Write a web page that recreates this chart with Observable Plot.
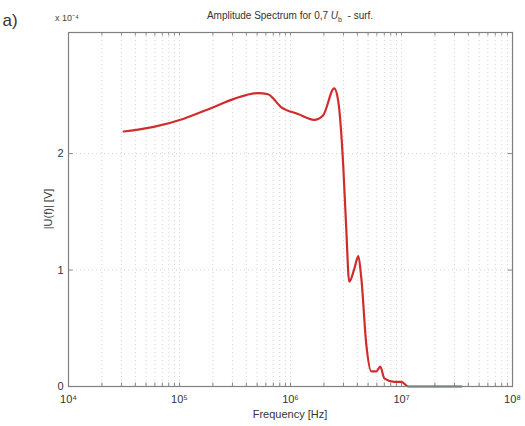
<!DOCTYPE html>
<html>
<head>
<meta charset="utf-8">
<script src="https://cdn.jsdelivr.net/npm/d3@7"></script>
<script src="https://cdn.jsdelivr.net/npm/@observablehq/plot@0.6"></script>
<style>
  html, body { margin: 0; padding: 0; background: #fff; }
  #chart { position: relative; width: 525px; height: 426px; }
  #chart svg { overflow: visible; }
</style>
</head>
<body>
<div id="chart"></div>
<script>
// Frequency in Hz
const freq = [31400, 58600, 109400, 191900, 309700, 509300, 626600, 822200,
  1172000, 1633000, 1972000, 2477000, 2692000, 2985000, 3177000, 3381000,
  3758000, 4083000, 4345000, 4819000, 5346000, 5929000, 6442000, 6998000,
  8630000, 9980000, 11530000, 34750000];
// Amplitude |U(f)| in units of 1e-4 V
const amp = [2.19, 2.23, 2.30, 2.39, 2.47, 2.52, 2.51, 2.40,
  2.34, 2.29, 2.33, 2.56, 2.45, 1.90, 1.36, 0.90,
  1.01, 1.12, 0.93, 0.36, 0.13, 0.13, 0.17, 0.07,
  0.04, 0.04, 0.0, 0.0];
const xTicks = [1e4, 1e5, 1e6, 1e7, 1e8];
const xTickLabels = ["10\u2074", "10\u2075", "10\u2076", "10\u2077", "10\u2078"];
const yTicks = [0, 1, 2];
const titleText = "Amplitude Spectrum for 0,7 ";
const titleVar = "U";
const titleSub = "b";
const titleRest = "  - surf.";
const exponentLabel = "x 10\u207B\u2074";
const panelLabel = "a)";
const xLabel = "Frequency [Hz]";
const yLabel = "|U(f)| [V]";

const data = freq.map((f, i) => ({f, a: amp[i]}));
const minor = [];
for (let e = 4; e < 8; e++) for (let m = 1; m <= 9; m++) minor.push(m * Math.pow(10, e));
minor.push(1e8);

const plot = Plot.plot({
  width: 525,
  height: 426,
  marginLeft: 68,
  marginRight: 13,
  marginTop: 32,
  marginBottom: 40,
  style: {fontFamily: "Liberation Sans, Arial, sans-serif", fontSize: "11px", color: "#333", background: "#fff"},
  x: {type: "log", domain: [1e4, 1e8], ticks: xTicks, tickFormat: (d) => xTickLabels[xTicks.indexOf(d)], tickSize: 0, tickPadding: 9, label: null},
  y: {domain: [0, 3.04], ticks: yTicks, tickFormat: (d) => String(d), tickSize: 0, tickPadding: 5, label: null},
  marks: [
    Plot.ruleX(minor, {stroke: "#d4d4d4", strokeDasharray: "1,3", strokeWidth: 1}),
    Plot.ruleY([1, 2], {stroke: "#d4d4d4", strokeDasharray: "1,3", strokeWidth: 1}),
    Plot.ruleX(minor, {y1: 0, y2: 0.03, stroke: "#888"}),
    Plot.ruleX(minor, {y1: 3.01, y2: 3.04, stroke: "#888"}),
    Plot.ruleY(yTicks, {x1: 1e4, x2: 1.1e4, stroke: "#888"}),
    Plot.ruleY(yTicks, {x1: 0.91e8, x2: 1e8, stroke: "#888"}),
    Plot.line(data, {x: "f", y: "a", stroke: "#d02c2c", strokeWidth: 2.2, curve: "monotone-x"}),
    Plot.frame({stroke: "#808080", strokeWidth: 1.2})
  ]
});

const svg = d3.select(plot);
// title
const t = svg.append("text").attr("x", 290).attr("y", 19).attr("text-anchor", "middle")
  .attr("font-size", 10).attr("fill", "#333");
t.append("tspan").text(titleText);
t.append("tspan").attr("font-style", "italic").text(titleVar);
t.append("tspan").attr("font-size", 7).attr("dy", 3).text(titleSub);
t.append("tspan").attr("dy", -3).text(titleRest);
// exponent
svg.append("text").attr("x", 67).attr("y", 21).attr("font-size", 9).attr("fill", "#444").text(exponentLabel);
// panel label
svg.append("text").attr("x", 10).attr("y", 26).attr("font-size", 17).attr("fill", "#333").text(panelLabel);
// axis labels
svg.append("text").attr("x", 290).attr("y", 418).attr("text-anchor", "middle").attr("font-size", 11).attr("fill", "#333").text(xLabel);
svg.append("text").attr("transform", "translate(52,209) rotate(-90)").attr("text-anchor", "middle").attr("font-size", 11).attr("fill", "#333").text(yLabel);

document.getElementById("chart").appendChild(plot);
</script>
</body>
</html>
